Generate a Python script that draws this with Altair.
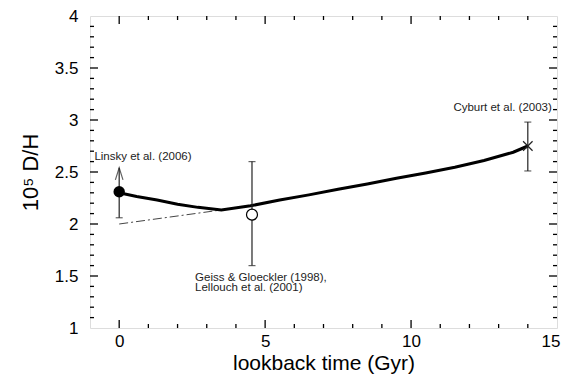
import altair as alt
import pandas as pd

FONT = "Liberation Sans"

# model curve
curve_x = [0, 0.6, 1.3, 2.0, 2.7, 3.5, 4.5, 5.5, 6.5, 7.5, 8.5, 9.5, 10.5, 11.5, 12.5, 13.5, 14]
curve_y = [2.30, 2.265, 2.23, 2.19, 2.16, 2.135, 2.175, 2.23, 2.28, 2.335, 2.385, 2.44, 2.49, 2.545, 2.61, 2.69, 2.75]

# dash-dot curve
dd_x = [0, 3.5]
dd_y = [2.0, 2.135]

# observations
obs_name = ["Linsky", "Geiss", "Cyburt"]
obs_x = [0, 4.55, 14]
obs_y = [2.31, 2.09, 2.75]
obs_lo = [2.06, 1.60, 2.51]
obs_hi = [2.54, 2.60, 2.98]

# labels
lab_text = ["Linsky et al. (2006)", "Cyburt et al. (2003)", "Geiss & Gloeckler (1998),", "Lellouch et al. (2001)"]
lab_x = [-0.85, 11.45, 2.6, 2.6]
lab_y = [2.645, 3.12, 1.484, 1.38]

# axis ticks
x_labels = [0, 5, 10, 15]
y_labels = [1, 1.5, 2, 2.5, 3, 3.5, 4]
x_minor = list(range(0, 15))
y_minor = [round(1 + 0.1 * i, 1) for i in range(1, 30)]

W, H = 467, 312
xs = alt.Scale(domain=[-1, 15], nice=False, zero=False)
ys = alt.Scale(domain=[1, 4], nice=False, zero=False)

curve = pd.DataFrame({"x": curve_x, "y": curve_y})
dd = pd.DataFrame({"x": dd_x, "y": dd_y})
obs = pd.DataFrame({"name": obs_name, "x": obs_x, "y": obs_y, "lo": obs_lo, "hi": obs_hi})
labs = pd.DataFrame({"t": lab_text, "x": lab_x, "y": lab_y})

xticks = pd.DataFrame({"v": x_minor, "major": [v % 5 == 0 for v in x_minor]})
yticks = pd.DataFrame({"v": y_minor, "major": [abs(v * 2 - round(v * 2)) < 1e-6 for v in y_minor]})

X = lambda f="x": alt.X(f"{f}:Q", scale=xs)
Y = lambda f="y": alt.Y(f"{f}:Q", scale=ys)

base_axes = alt.Chart(curve).mark_line(opacity=0).encode(
    x=alt.X("x:Q", scale=xs, title="lookback time (Gyr)",
            axis=alt.Axis(values=x_labels, ticks=False, domain=False, grid=False,
                          labelPadding=5, labelFontSize=17, titleFontSize=21,
                          titlePadding=3, labelFont=FONT, titleFont=FONT,
                          titleFontWeight="normal", labelColor="black", titleColor="black",
                          labelFlush=True, labelFlushOffset=3)),
    y=alt.Y("y:Q", scale=ys, title="10⁵ D/H",
            axis=alt.Axis(values=y_labels, format="~g", ticks=False, domain=False, grid=False,
                          labelPadding=12, labelFontSize=17, titleFontSize=22,
                          titlePadding=12, labelFont=FONT, titleFont=FONT,
                          titleFontWeight="normal", labelColor="black", titleColor="black",
                          labelFlush=False)),
)

line = alt.Chart(curve).mark_line(color="black", strokeWidth=3).encode(x=X(), y=Y())
dash = alt.Chart(dd).mark_line(color="#444", strokeWidth=1, strokeDash=[9, 3, 2, 3]).encode(x=X(), y=Y())

err = alt.Chart(obs).mark_rule(color="#222", strokeWidth=1.2).encode(x=X(), y=Y("lo"), y2="hi")
caps_lo = alt.Chart(obs).mark_tick(color="#222", orient="horizontal", size=7, thickness=1.2).encode(x=X(), y=Y("lo"))
caps_hi = alt.Chart(obs).transform_filter("datum.name != 'Linsky'").mark_tick(
    color="#222", orient="horizontal", size=7, thickness=1.2).encode(x=X(), y=Y("hi"))
arrow = alt.Chart(obs).transform_filter("datum.name == 'Linsky'").mark_point(
    shape="M -0.38 1.2 L 0 0 L 0.38 1.2", size=400, filled=False, color="#222", strokeWidth=1.2
).encode(x=X(), y=Y("hi"))

p_fill = alt.Chart(obs).transform_filter("datum.name == 'Linsky'").mark_point(
    shape="circle", size=130, filled=True, color="black", opacity=1).encode(x=X(), y=Y())
p_open = alt.Chart(obs).transform_filter("datum.name == 'Geiss'").mark_point(
    shape="circle", size=120, filled=False, color="black", strokeWidth=1.2, fill="white", fillOpacity=1, opacity=1
).encode(x=X(), y=Y())
p_cross = alt.Chart(obs).transform_filter("datum.name == 'Cyburt'").mark_point(
    shape="M -1 -1 L 1 1 M -1 1 L 1 -1", size=90, filled=False, color="#222", strokeWidth=1.2, opacity=1
).encode(x=X(), y=Y())

text = alt.Chart(labs).mark_text(align="left", baseline="middle", font=FONT, fontSize=11.5, color="#222").encode(
    x=X(), y=Y(), text="t:N")

# inward ticks on all four sides
def xt(major, bottom):
    d = xticks[xticks.major == major]
    L = 8 if major else 4
    if bottom:
        yv, y2v = alt.value(H), alt.value(H - L)
    else:
        yv, y2v = alt.value(0), alt.value(L)
    return alt.Chart(d).mark_rule(color="black", strokeWidth=1.3).encode(
        x=alt.X("v:Q", scale=xs), y=yv, y2=y2v)

def yt(major, left):
    d = yticks[yticks.major == major]
    L = 8 if major else 4
    if left:
        xv, x2v = alt.value(0), alt.value(L)
    else:
        xv, x2v = alt.value(W), alt.value(W - L)
    return alt.Chart(d).mark_rule(color="black", strokeWidth=1.3).encode(
        y=alt.Y("v:Q", scale=ys), x=xv, x2=x2v)

tick_layers = [xt(True, True), xt(False, True), xt(True, False), xt(False, False),
               yt(True, True), yt(False, True), yt(True, False), yt(False, False)]

chart = alt.layer(
    base_axes, *tick_layers, dash, line, err, caps_lo, caps_hi, arrow, p_open, p_fill, p_cross, text
).properties(
    width=W, height=H,
    autosize=alt.AutoSizeParams(type="none"),
    padding={"left": 82, "top": 8, "right": 4, "bottom": 46},
).configure_view(stroke="black", strokeWidth=1.5).configure(background="white")

chart.save("out.html", embed_options={"renderer": "svg", "actions": False})
